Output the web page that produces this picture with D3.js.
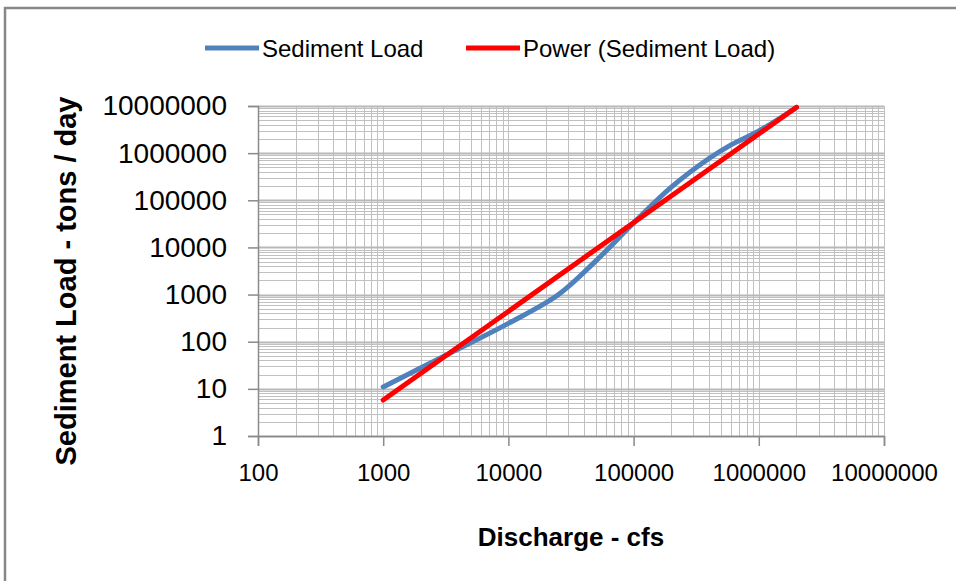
<!DOCTYPE html>
<html>
<head>
<meta charset="utf-8">
<script src="https://cdn.jsdelivr.net/npm/d3@7"></script>
<style>
  html, body { margin: 0; padding: 0; background: #fff; }
  svg { display: block; font-family: "Liberation Sans", Arial, sans-serif; }
</style>
</head>
<body>
<svg id="chart" width="956" height="581"></svg>
<script>
// Sediment Load rating curve
const discharge = [1000, 3000, 10000, 25000, 50000, 100000, 200000, 400000, 600000, 1000000, 2000000];
const sedimentLoad = [11, 48, 245, 990, 5200, 33000, 190000, 770000, 1500000, 2950000, 9300000];

// Power trendline end points (straight in log-log)
const trendDischarge = [1000, 2000000];
const trendLoad = [5.8, 9400000];

const xDecades = [100, 1000, 10000, 100000, 1000000, 10000000];
const yDecades = [1, 10, 100, 1000, 10000, 100000, 1000000, 10000000];

const svg = d3.select("#chart");

// chart frame (cropped on the right and bottom in the source)
svg.append("rect").attr("x", 5).attr("y", 8).attr("width", 1200).attr("height", 900)
  .attr("fill", "#fff").attr("stroke", "#878787").attr("stroke-width", 2.5);

const x = d3.scaleLog().domain([100, 10000000]).range([258, 884]);
const y = d3.scaleLog().domain([1, 10000000]).range([436, 106]);

// grid
const grid = svg.append("g");
grid.selectAll("line.v").data(x.ticks()).join("line").attr("class", "v")
  .attr("x1", d => Math.round(x(d)) + 0.5).attr("x2", d => Math.round(x(d)) + 0.5)
  .attr("y1", y.range()[1]).attr("y2", y.range()[0])
  .attr("stroke", "#c0c0c0").attr("stroke-width", 1);
grid.selectAll("line.h").data(y.ticks()).join("line").attr("class", "h")
  .attr("x1", x.range()[0]).attr("x2", x.range()[1])
  .attr("y1", d => Math.round(y(d)) + 0.5).attr("y2", d => Math.round(y(d)) + 0.5)
  .attr("stroke", "#c0c0c0").attr("stroke-width", 1);
grid.selectAll("line.hm").data(yDecades).join("line").attr("class", "hm")
  .attr("x1", x.range()[0]).attr("x2", x.range()[1])
  .attr("y1", d => Math.round(y(d)) + 0.5).attr("y2", d => Math.round(y(d)) + 0.5)
  .attr("stroke", "#b8b8b8").attr("stroke-width", 2);

// axes
const xAxis = svg.append("g").attr("transform", `translate(0,${y.range()[0]})`)
  .call(d3.axisBottom(x).tickValues(xDecades).tickSize(10).tickPadding(18).tickFormat(d3.format("d")));
const yAxis = svg.append("g").attr("transform", `translate(${x.range()[0]},0)`)
  .call(d3.axisLeft(y).tickValues(yDecades).tickSize(10).tickPadding(21).tickFormat(d3.format("d")));
[xAxis, yAxis].forEach(a => {
  a.select(".domain").attr("stroke", "#8a8a8a").attr("stroke-width", 1.5);
  a.selectAll(".tick line").attr("stroke", "#8a8a8a").attr("stroke-width", 1.5);
  a.selectAll(".tick text").attr("fill", "#000").style("font-family", "'Liberation Sans', Arial, sans-serif");
});
xAxis.selectAll(".tick text").style("font-size", "24px");
yAxis.selectAll(".tick text").style("font-size", "28px");

// series
const line = d3.line().x(d => x(d[0])).y(d => y(d[1]));
svg.append("path")
  .datum(d3.zip(discharge, sedimentLoad))
  .attr("d", line.curve(d3.curveCatmullRom.alpha(0.5)))
  .attr("fill", "none").attr("stroke", "#4f81bd").attr("stroke-width", 5)
  .attr("stroke-linecap", "round").attr("stroke-linejoin", "round");
svg.append("path")
  .datum(d3.zip(trendDischarge, trendLoad))
  .attr("d", d3.line().x(d => x(d[0])).y(d => y(d[1])))
  .attr("fill", "none").attr("stroke", "#ff0000").attr("stroke-width", 5)
  .attr("stroke-linecap", "round");

// axis titles
svg.append("text").attr("x", 571).attr("y", 546).attr("text-anchor", "middle")
  .style("font-size", "26px").style("font-weight", "bold").text("Discharge - cfs");
svg.append("text").attr("transform", "translate(76,281) rotate(-90)").attr("text-anchor", "middle")
  .style("font-size", "29px").style("font-weight", "bold").text("Sediment Load - tons / day");

// legend
const legendItems = [
  { label: "Sediment Load", color: "#4f81bd", x: 205 },
  { label: "Power (Sediment Load)", color: "#ff0000", x: 466 }
];
const lg = svg.append("g").selectAll("g").data(legendItems).join("g")
  .attr("transform", d => `translate(${d.x},48)`);
lg.append("line").attr("x1", 0).attr("x2", 54).attr("stroke", d => d.color).attr("stroke-width", 5);
lg.append("text").attr("x", 57).attr("y", 8.5).style("font-size", "24px").attr("fill", "#000").text(d => d.label);
</script>
</body>
</html>
